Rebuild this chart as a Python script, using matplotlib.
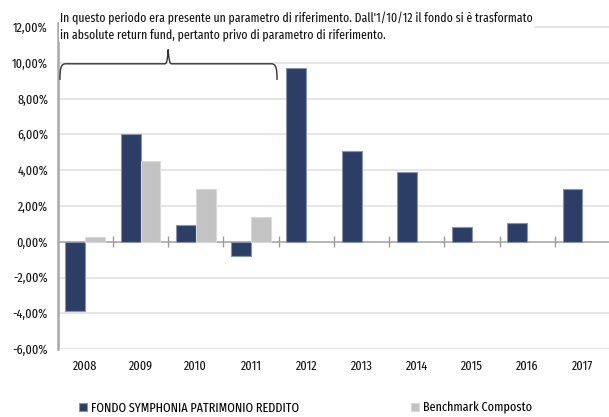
import matplotlib.pyplot as plt
import numpy as np
from matplotlib.path import Path
from matplotlib.patches import PathPatch

plt.rcParams['font.family'] = ['Fira Sans Extra Condensed', 'DejaVu Sans']

anni = ['2008', '2009', '2010', '2011', '2012', '2013', '2014', '2015', '2016', '2017']
fondo = [-3.9, 6.05, 0.95, -0.8, 9.7, 5.05, 3.9, 0.85, 1.05, 2.95]
benchmark = [0.25, 4.5, 2.95, 1.4]
yticks = [-6, -4, -2, 0, 2, 4, 6, 8, 10, 12]

nota = ("In questo periodo era presente un parametro di riferimento. Dall'1/10/12 il fondo si è trasformato\n"
        "in absolute return fund, pertanto privo di parametro di riferimento.")

NAVY = '#2d3e66'
GREY = '#c3c3c3'

fig = plt.figure(figsize=(6.09, 4.17), dpi=100)
ax = fig.add_axes([0.0948, 0.163, 0.9052, 0.7826])

x = np.arange(len(anni))
w = 0.36
ax.bar(x - w / 2, fondo, width=w, color=NAVY, edgecolor='#8a93ad', linewidth=0.8,
       label='FONDO SYMPHONIA PATRIMONIO REDDITO', zorder=3)
ax.bar(np.arange(len(benchmark)) + w / 2, benchmark, width=w, color=GREY,
       edgecolor='#dadada', linewidth=0.8, label='Benchmark Composto', zorder=3)

ax.set_xlim(-0.5, 9.48)
ax.set_ylim(-6, 12.25)
ax.set_yticks(yticks)
ax.set_yticklabels([f'{v:.2f}%'.replace('.', ',') for v in yticks], fontsize=9.5, color='#111111')
ax.set_xticks(x)
ax.set_xticklabels(anni, fontsize=9.5, color='#111111')
ax.tick_params(axis='x', length=0, pad=8)
ax.tick_params(axis='y', length=0, pad=7)

ax.grid(axis='y', color='#e4e4e4', linewidth=1.3, zorder=0)
ax.set_axisbelow(True)
for s in ['top', 'right', 'bottom']:
    ax.spines[s].set_visible(False)
ax.spines['left'].set_color('#a8a8a8')
ax.spines['left'].set_linewidth(1.8)

# linea dello zero con tacche tra le categorie
ax.axhline(0, color='#b5b5b5', linewidth=1.4, zorder=2)
ax.vlines(x[:-1] + 0.5, -0.3, 0.3, color='#9a9a9a', linewidth=1, zorder=2)

# parentesi graffa sopra 2008-2011
x0, x1, xm = -0.46, 3.47, 1.5
yb, yh, yp = 9.05, 9.95, 10.75
verts = [(x0, yb), (x0, yh - 0.35), (x0 + 0.01, yh), (x0 + 0.1, yh),
         (xm - 0.06, yh), (xm - 0.02, yh), (xm - 0.01, yh + 0.35), (xm, yp),
         (xm + 0.01, yh + 0.35), (xm + 0.02, yh), (xm + 0.06, yh),
         (x1 - 0.1, yh), (x1 - 0.01, yh), (x1, yh - 0.35), (x1, yb)]
codes = [Path.MOVETO, Path.CURVE4, Path.CURVE4, Path.CURVE4,
         Path.LINETO, Path.CURVE4, Path.CURVE4, Path.CURVE4,
         Path.CURVE4, Path.CURVE4, Path.CURVE4,
         Path.LINETO, Path.CURVE4, Path.CURVE4, Path.CURVE4]
ax.add_patch(PathPatch(Path(verts, codes), facecolor='none', edgecolor='#333333',
                       linewidth=1, clip_on=False, zorder=4))

fig.text(60 / 609, 1 - 12 / 417, nota, fontsize=9.2, va='top', ha='left', color='#111111',
         linespacing=1.3,
         bbox=dict(facecolor='white', edgecolor='none', pad=1))

ax.legend(loc='center left', bbox_to_anchor=(67 / 609, 1 - 408 / 417),
          bbox_transform=fig.transFigure, ncol=2, frameon=False, fontsize=9.5,
          handlelength=0.6, handleheight=0.6, handletextpad=0.3, columnspacing=8.5)

fig.savefig('out.png', dpi=100)
